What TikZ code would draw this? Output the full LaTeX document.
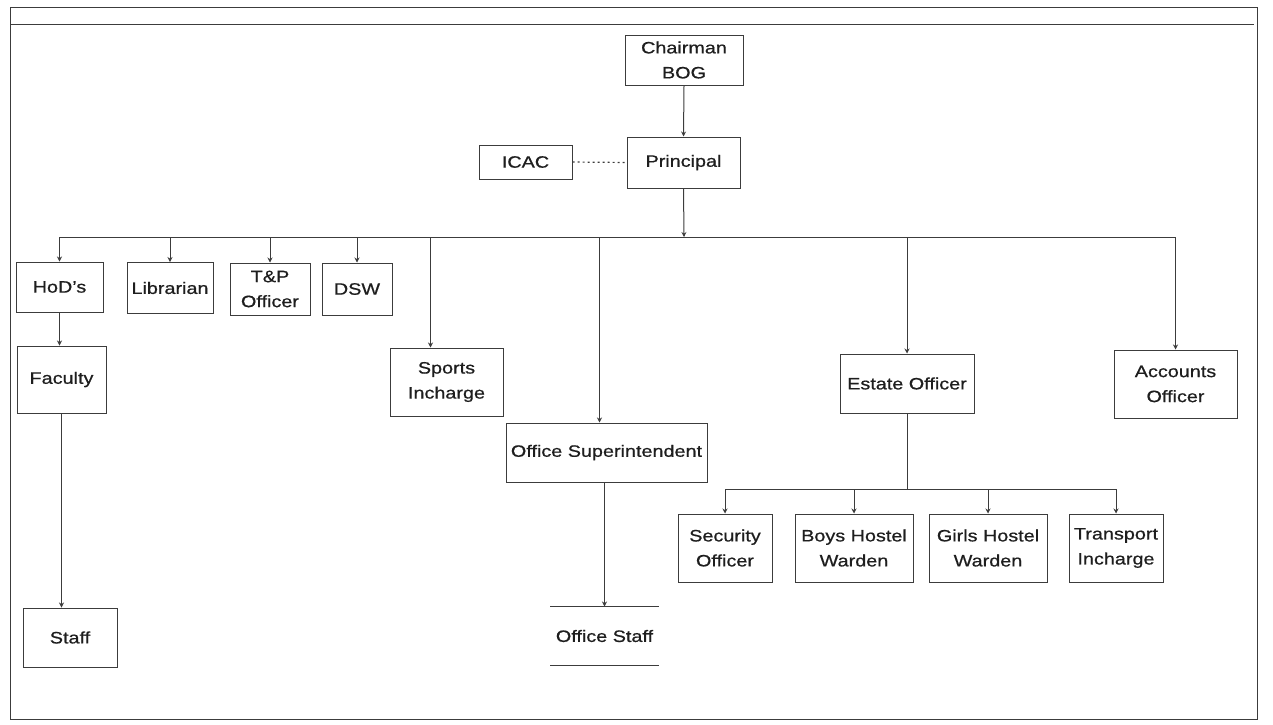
\documentclass[tikz,border=0pt]{standalone}
\usepackage{fontspec}
\setmainfont{Liberation Sans}[FakeStretch=1.2,FakeBold=0.7]
\usepackage{tikz}
\usetikzlibrary{arrows.meta}
\definecolor{L}{RGB}{60, 60, 60}
\definecolor{T}{RGB}{30, 30, 30}

\begin{document}
\begin{tikzpicture}[x=1pt,y=-1pt,
	caja/.style={draw=L, line width=1pt, text=T, align=center, inner sep=0pt,
		font=\fontsize{16.5}{25}\selectfont},
	linea/.style={draw=L, line width=1pt},
	flecha/.style={linea, -{Stealth[length=5pt,width=5pt]}}]
	\useasboundingbox (0,0) rectangle (1273,724);

	%Marco de la hoja
	\draw[linea] (10,7) rectangle (1257,719);
	\draw[linea] (10,24) -- (1254,24);

	%Direccion
	\node[caja, minimum width=118, minimum height=50] (chair) at (684,60) {Chairman\\BOG};
	\node[caja, minimum width=113, minimum height=51] (prin) at (683.5,162.5) {Principal};
	\node[caja, minimum width=93, minimum height=34] (icac) at (525.5,162) {ICAC};

	%Primer nivel
	\node[caja, minimum width=87, minimum height=50] (hod) at (59.5,287) {HoD's};
	\node[caja, minimum width=86, minimum height=51] (lib) at (170,288) {Librarian};
	\node[caja, minimum width=80, minimum height=52] (tp) at (270,289) {T\&P\\Officer};
	\node[caja, minimum width=70, minimum height=52] (dsw) at (357,289) {DSW};
	\node[caja, minimum width=113, minimum height=68] (sports) at (446.5,382) {Sports\\Incharge};
	\node[caja, minimum width=201, minimum height=59] (osup) at (606.5,452.5) {Office Superintendent};
	\node[caja, minimum width=134, minimum height=59] (estate) at (907,383.5) {Estate Officer};
	\node[caja, minimum width=123, minimum height=68] (acc) at (1175.5,384) {Accounts\\Officer};

	%Academico
	\node[caja, minimum width=89, minimum height=67] (fac) at (61.5,379.5) {Faculty};
	\node[caja, minimum width=94, minimum height=59] (staff) at (70,637.5) {Staff};

	%Oficina (solo lineas arriba y abajo)
	\node[caja, draw=none, minimum width=108, minimum height=58] (ostaff) at (604.5,636) {Office Staff};
	\draw[linea] (ostaff.north west) -- (ostaff.north east);
	\draw[linea] (ostaff.south west) -- (ostaff.south east);

	%Bajo Estate Officer
	\node[caja, minimum width=94, minimum height=68] (sec) at (725,548) {Security\\Officer};
	\node[caja, minimum width=118, minimum height=68] (boys) at (854,548) {Boys Hostel\\Warden};
	\node[caja, minimum width=118, minimum height=68] (girls) at (988,548) {Girls Hostel\\Warden};
	\node[caja, minimum width=94, minimum height=68] (trans) at (1116,548) {Transport\\Incharge};

	%Conexiones de arriba
	\draw[flecha] (chair.south) -- (prin.north);
	\draw[linea, dash pattern=on 2pt off 3pt, line width=1.2pt] (icac.east) -- (prin.west);
	\coordinate (bus) at (684,237);
	\draw[flecha] (prin.south) -- (bus);
	\draw[linea] (hod.north |- bus) -- (acc.north |- bus);

	%Flechas del bus principal
	\foreach \n in {hod,lib,tp,dsw,estate,acc}
		\draw[flecha] (\n.north |- bus) -- (\n.north);
	\coordinate (sp) at ([xshift=-16]sports.north);
	\draw[flecha] (sp |- bus) -- (sp);
	\coordinate (os) at ([xshift=-7]osup.north);
	\draw[flecha] (os |- bus) -- (os);

	%Columna academica y oficina
	\draw[flecha] (hod.south) -- (fac.north -| hod.south);
	\draw[flecha] (fac.south) -- (fac.south |- staff.north);
	\draw[flecha] (ostaff.north |- osup.south) -- (ostaff.north);

	%Bus de Estate Officer
	\coordinate (ebus) at (907,489);
	\draw[linea] (estate.south) -- (ebus);
	\draw[linea] (sec.north |- ebus) -- (trans.north |- ebus);
	\foreach \n in {sec,boys,girls,trans}
		\draw[flecha] (\n.north |- ebus) -- (\n.north);
\end{tikzpicture}
\end{document}
